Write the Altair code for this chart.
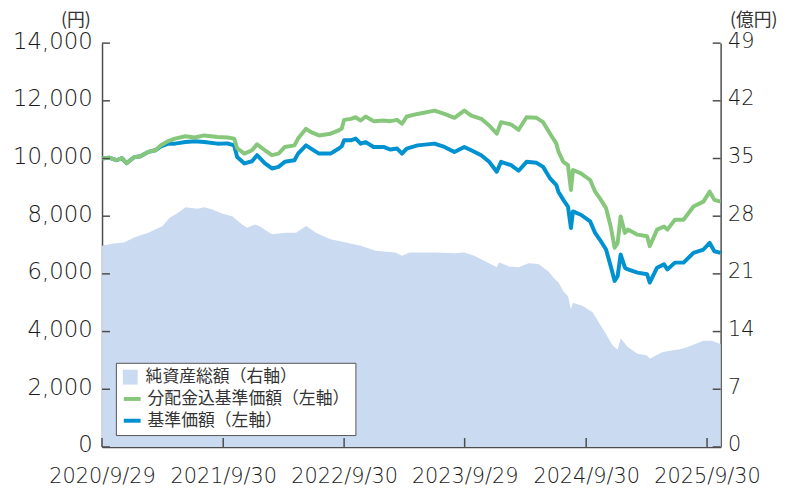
import altair as alt
import pandas as pd

# ---------------- data ----------------
line_dates = [
    "2020-09-29", "2020-10-20", "2020-11-12", "2020-11-28", "2020-12-12",
    "2021-01-04", "2021-01-23", "2021-02-16", "2021-03-09", "2021-03-26",
    "2021-04-15", "2021-05-07", "2021-06-08", "2021-07-06", "2021-08-04",
    "2021-09-12", "2021-10-13", "2021-11-02", "2021-11-11", "2021-12-03",
    "2021-12-26", "2022-01-10", "2022-02-03", "2022-02-24", "2022-03-16",
    "2022-04-04", "2022-05-03", "2022-05-14", "2022-06-07", "2022-06-22",
    "2022-07-16", "2022-08-20", "2022-09-14", "2022-09-23", "2022-09-30",
    "2022-10-20", "2022-11-04", "2022-11-19", "2022-12-04", "2022-12-28",
    "2023-01-27", "2023-02-17", "2023-03-09", "2023-03-24", "2023-04-07",
    "2023-05-10", "2023-06-30", "2023-07-30", "2023-08-29", "2023-09-28",
    "2023-10-19", "2023-11-18", "2023-12-12", "2024-01-04", "2024-01-17",
    "2024-02-16", "2024-03-10", "2024-04-03", "2024-05-03", "2024-05-23",
    "2024-06-13", "2024-07-02", "2024-07-08", "2024-07-23", "2024-08-06",
    "2024-08-15", "2024-08-21", "2024-09-14", "2024-10-12", "2024-10-27",
    "2024-11-10", "2024-11-29", "2024-12-13", "2024-12-25", "2025-01-03",
    "2025-01-12", "2025-01-25", "2025-02-03", "2025-03-04", "2025-04-02",
    "2025-04-10", "2025-05-02", "2025-05-23", "2025-06-02", "2025-06-25",
    "2025-07-21", "2025-08-20", "2025-09-19", "2025-10-08", "2025-10-22",
    "2025-11-10",
]
# 分配金込基準価額 (円)
nav_with_dist = [
    10000, 10030, 9940, 10010, 9840,
    10045, 10080, 10230, 10285, 10460,
    10595, 10690, 10770, 10730, 10800,
    10745, 10730, 10690, 10355, 10170,
    10285, 10490, 10285, 10115, 10170,
    10400, 10455, 10690, 11030, 10915,
    10800, 10860, 10975, 11040, 11340,
    11375, 11430, 11315, 11455, 11295,
    11315, 11295, 11340, 11205, 11455,
    11545, 11660, 11545, 11410, 11660,
    11490, 11375, 11145, 10860, 11260,
    11180, 10995, 11430, 11410, 11260,
    10860, 10515, 10250, 9885, 9770,
    8910, 9600, 9485, 9255, 8850,
    8625, 8280, 7645, 6905, 7075,
    7990, 7420, 7535, 7360, 7305,
    6960, 7535, 7645, 7535, 7875,
    7875, 8335, 8505, 8850, 8565,
    8505,
]
# 基準価額 (円)
nav_value = [
    10000, 10030, 9940, 10010, 9840,
    10045, 10080, 10230, 10285, 10420,
    10510, 10515, 10570, 10595, 10570,
    10515, 10525, 10455, 10055, 9830,
    9905, 10115, 9830, 9655, 9710,
    9885, 9940, 10170, 10455, 10345,
    10170, 10170, 10345, 10425, 10630,
    10630, 10690, 10515, 10570, 10400,
    10400, 10310, 10345, 10170, 10345,
    10455, 10515, 10400, 10225, 10400,
    10285, 10115, 9885, 9540, 9885,
    9770, 9575, 9885, 9850, 9710,
    9310, 9080, 8850, 8565, 8335,
    7590, 8165, 8050, 7820, 7420,
    7190, 6845, 6270, 5755, 5925,
    6675, 6215, 6155, 6045, 5985,
    5700, 6215, 6330, 6155, 6390,
    6390, 6730, 6845, 7075, 6785,
    6730,
]

aum_dates = [
    "2020-09-29", "2020-11-03", "2020-12-04", "2021-01-04", "2021-02-16",
    "2021-03-31", "2021-04-21", "2021-05-16", "2021-06-08", "2021-07-14",
    "2021-08-04", "2021-08-28", "2021-09-28", "2021-10-27", "2021-11-26",
    "2021-12-11", "2022-01-04", "2022-01-16", "2022-02-24", "2022-04-08",
    "2022-05-08", "2022-06-07", "2022-07-07", "2022-08-20", "2022-10-05",
    "2022-11-19", "2023-01-03", "2023-03-03", "2023-03-24", "2023-04-16",
    "2023-06-30", "2023-08-29", "2023-09-28", "2023-10-28", "2023-11-27",
    "2024-01-04", "2024-01-11", "2024-02-10", "2024-03-10", "2024-04-09",
    "2024-05-09", "2024-06-08", "2024-06-29", "2024-07-08", "2024-07-23",
    "2024-08-06", "2024-08-15", "2024-08-21", "2024-09-20", "2024-10-20",
    "2024-11-04", "2024-11-26", "2024-12-19", "2025-01-03", "2025-01-12",
    "2025-02-03", "2025-03-04", "2025-04-02", "2025-04-10", "2025-05-17",
    "2025-06-15", "2025-07-15", "2025-08-14", "2025-09-19", "2025-10-14",
    "2025-11-10",
]
# 純資産総額 (億円)
aum_value = [
    24.4, 24.7, 24.8, 25.4, 26.0,
    26.8, 27.8, 28.4, 29.1, 28.9,
    29.1, 28.8, 28.3, 28.0, 27.0,
    26.6, 27.0, 26.8, 25.8, 26.0,
    26.0, 26.8, 26.0, 25.2, 24.8,
    24.4, 23.8, 23.6, 23.2, 23.6,
    23.6, 23.5, 23.6, 23.2, 22.6,
    21.8, 22.4, 21.9, 21.8, 22.3,
    22.2, 21.3, 20.3, 20.0, 18.9,
    18.3, 16.7, 17.5, 17.1, 16.3,
    15.3, 13.9, 12.3, 11.8, 13.2,
    12.1, 11.3, 11.1, 10.7, 11.5,
    11.7, 11.9, 12.3, 12.9, 12.9,
    12.5,
]

x_tick_dates = ["2020-09-29", "2021-09-30", "2022-09-30", "2023-09-29", "2024-09-30", "2025-09-30"]
left_ticks = [0, 2000, 4000, 6000, 8000, 10000, 12000, 14000]
right_ticks = [0, 7, 14, 21, 28, 35, 42, 49]

S_AUM = "純資産総額（右軸）"
S_DIST = "分配金込基準価額（左軸）"
S_NAV = "基準価額（左軸）"

C_AUM = "#c9daf1"
C_DIST = "#87c77b"
C_NAV = "#0091d0"
C_AXIS = "#4d4d4d"
C_TEXT = "#333333"
C_NUM = "#1a1a1a"

JP = "Noto Sans CJK JP"
NUM = "DejaVu Sans"

W, H = 625, 408


def ts(d):
    return d + "T00:00:00"


nav_df = pd.DataFrame({"date": [ts(d) for d in line_dates], "value": nav_value, "series": S_NAV})
dist_df = pd.DataFrame({"date": [ts(d) for d in line_dates], "value": nav_with_dist, "series": S_DIST})
aum_df = pd.DataFrame({"date": [ts(d) for d in aum_dates], "aum": aum_value, "s": S_AUM})
xt_df = pd.DataFrame({"date": [ts(d) for d in x_tick_dates]})
lt_df = pd.DataFrame({"value": left_ticks})
rt_df = pd.DataFrame({"aum": right_ticks})

xdom = [alt.DateTime(year=2020, month=9, date=29), alt.DateTime(year=2025, month=11, date=10)]
xvals = [alt.DateTime(year=int(d[:4]), month=int(d[5:7]), date=int(d[8:10])) for d in x_tick_dates]

X = alt.X(
    "date:T",
    scale=alt.Scale(domain=xdom),
    axis=alt.Axis(
        values=xvals, format="%Y/%-m/%-d", title=None, labelFontSize=21,
        labelPadding=19, labelOverlap=False, labelFlush=False, orient="bottom",
    ),
)

Y_LEFT = alt.Y(
    "value:Q",
    scale=alt.Scale(domain=[0, 14000], nice=False, zero=True),
    axis=alt.Axis(
        orient="left", values=left_ticks, format=",d", labelFontSize=23, labelPadding=10,
        labelOffset=-2,
        title="(円)", titleAngle=0, titleX=-27, titleY=-23, titleAlign="center",
        titleBaseline="middle", titleFontSize=18,
    ),
)

Y_RIGHT = alt.Y(
    "aum:Q",
    scale=alt.Scale(domain=[0, 49], nice=False, zero=True),
    axis=alt.Axis(
        orient="right", values=right_ticks, format="d", labelFontSize=21, labelPadding=7,
        labelOffset=-2,
        title="(億円)", titleAngle=0, titleX=33, titleY=-23, titleAlign="center",
        titleBaseline="middle", titleFontSize=18,
    ),
)

stroke_enc = alt.Stroke(
    "series:N",
    scale=alt.Scale(domain=[S_DIST, S_NAV], range=[C_DIST, C_NAV]),
    legend=alt.Legend(
        orient="none", legendX=14, legendY=323, padding=6, fillColor="white",
        strokeColor="#555555", cornerRadius=0, title=" ", titleFontSize=1,
        titleFont=JP, titlePadding=19, symbolType="stroke", symbolStrokeWidth=4,
        symbolSize=289, labelFont=JP, labelFontSize=17, labelColor=C_TEXT,
        labelOffset=5, rowPadding=3, labelLimit=400, zindex=1,
    ),
)

fill_enc = alt.Fill(
    "s:N",
    scale=alt.Scale(domain=[S_AUM], range=[C_AUM]),
    legend=alt.Legend(
        orient="none", legendX=20, legendY=329, padding=0, title=None,
        symbolType="square", symbolSize=225, symbolStrokeWidth=0, symbolOpacity=1,
        labelFont=JP, labelFontSize=17, labelColor=C_TEXT, labelOffset=7,
        labelLimit=400, zindex=2,
    ),
)

area = alt.Chart(aum_df).mark_area(opacity=1, interpolate="linear").encode(
    x=X, y=Y_RIGHT, fill=fill_enc
)
right_ticks_rule = alt.Chart(rt_df).mark_rule(color=C_AXIS, strokeWidth=1.5).encode(
    y=Y_RIGHT, x=alt.value(W - 8), x2=alt.value(W)
)

nav_line = alt.Chart(nav_df).mark_line(strokeWidth=4, strokeJoin="round").encode(
    x=X, y=Y_LEFT, stroke=stroke_enc
)
dist_line = alt.Chart(dist_df).mark_line(strokeWidth=4, strokeJoin="round").encode(
    x=X, y=Y_LEFT, stroke=stroke_enc
)
left_ticks_rule = alt.Chart(lt_df).mark_rule(color=C_AXIS, strokeWidth=1.5).encode(
    y=Y_LEFT, x=alt.value(0), x2=alt.value(8)
)

x_ticks_rule = alt.Chart(xt_df).mark_rule(color=C_AXIS, strokeWidth=1.5).encode(
    x=X, y=alt.value(H - 9), y2=alt.value(H)
)

right_group = alt.layer(area, right_ticks_rule)
left_group = alt.layer(nav_line, dist_line, left_ticks_rule)

chart = (
    alt.layer(right_group, left_group, x_ticks_rule)
    .resolve_scale(y="independent")
    .properties(
        width=W, height=H,
        autosize=alt.AutoSizeParams(type="none"),
        padding={"left": 95, "top": 33, "right": 62, "bottom": 41},
        background="white",
    )
    .configure_view(stroke=None)
    .configure_axis(
        grid=False, ticks=False, tickSize=0, labelFont=NUM, labelFontWeight=300,
        labelColor=C_NUM, domainColor=C_AXIS, domainWidth=1.5, titleFont=JP,
        titleColor=C_TEXT, titleFontWeight="normal",
    )
    .configure_legend(titleFontWeight="normal")
)

chart.save("out.html", embed_options={"renderer": "svg", "actions": False})
